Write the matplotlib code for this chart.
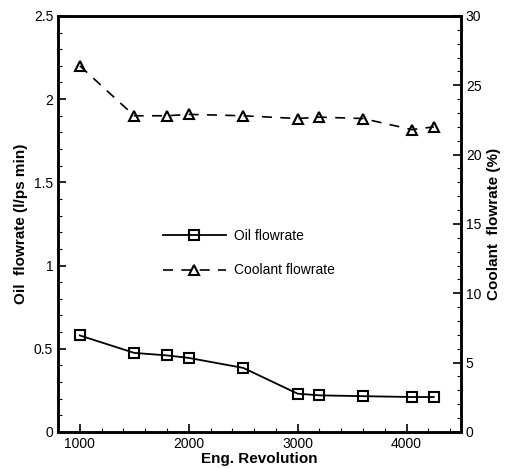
import matplotlib
matplotlib.use('Agg')
import matplotlib.pyplot as plt
from matplotlib.ticker import MultipleLocator, FixedLocator, FixedFormatter

plt.rcParams['font.family'] = ['Liberation Sans', 'DejaVu Sans']

# Data
rpm = [1000, 1500, 1800, 2000, 2500, 3000, 3200, 3600, 4050, 4250]
oil_flow = [0.58, 0.475, 0.46, 0.445, 0.385, 0.23, 0.22, 0.215, 0.21, 0.21]
coolant_flow = [26.4, 22.8, 22.8, 22.9, 22.8, 22.6, 22.7, 22.6, 21.8, 22.0]

x_ticks = [1000, 2000, 3000, 4000]
y_ticks = [0, 0.5, 1, 1.5, 2, 2.5]
y_tick_labels = ['0', '0.5', '1', '1.5', '2', '2.5']
y2_ticks = [0, 5, 10, 15, 20, 25, 30]

fig = plt.figure(figsize=(5.18, 4.68), dpi=100)
ax = fig.add_axes([0.112, 0.077, 0.778, 0.889])
ax2 = ax.twinx()

l1, = ax.plot(rpm, oil_flow, color='black', linestyle='-', linewidth=1.3,
              marker='s', markersize=7, markerfacecolor='none',
              markeredgewidth=1.5, label='Oil flowrate')
l2, = ax2.plot(rpm, coolant_flow, color='black', linestyle=(0, (6, 5)),
               linewidth=1.2, marker='^', markersize=7.5, markerfacecolor='none',
               markeredgewidth=1.5, label='Coolant flowrate')

ax.set_xlim(800, 4500)
ax.set_ylim(0, 2.5)
ax2.set_ylim(0, 30)

ax.xaxis.set_major_locator(FixedLocator(x_ticks))
ax.xaxis.set_minor_locator(MultipleLocator(200))
ax.yaxis.set_major_locator(FixedLocator(y_ticks))
ax.yaxis.set_major_formatter(FixedFormatter(y_tick_labels))
ax.yaxis.set_minor_locator(MultipleLocator(0.1))
ax2.yaxis.set_major_locator(FixedLocator(y2_ticks))
ax2.yaxis.set_minor_locator(MultipleLocator(1))

ax.tick_params(axis='x', which='both', direction='in', top=False, labelsize=10)
ax.tick_params(axis='y', which='both', direction='in', labelsize=10)
ax.tick_params(which='major', length=6, width=1.2)
ax.tick_params(which='minor', length=3, width=0.8)
ax2.tick_params(axis='y', which='both', direction='in', labelsize=10)
ax2.tick_params(which='major', length=6, width=1.2)
ax2.tick_params(which='minor', length=3, width=0.8)

for a in (ax, ax2):
    for s in a.spines.values():
        s.set_linewidth(1.8)

ax.set_xlabel('Eng. Revolution', fontsize=11, fontweight='bold', labelpad=1)
ax.set_ylabel('Oil  flowrate (l/ps min)', fontsize=11, fontweight='bold', labelpad=4)
ax2.set_ylabel('Coolant  flowrate (%)', fontsize=11, fontweight='bold', labelpad=4)

ax.legend(handles=[l1, l2], loc='center left', bbox_to_anchor=(0.23, 0.43),
          frameon=False, fontsize=10, handlelength=4.5, handletextpad=0.6,
          labelspacing=1.5)

fig.savefig('out.png', dpi=100)
